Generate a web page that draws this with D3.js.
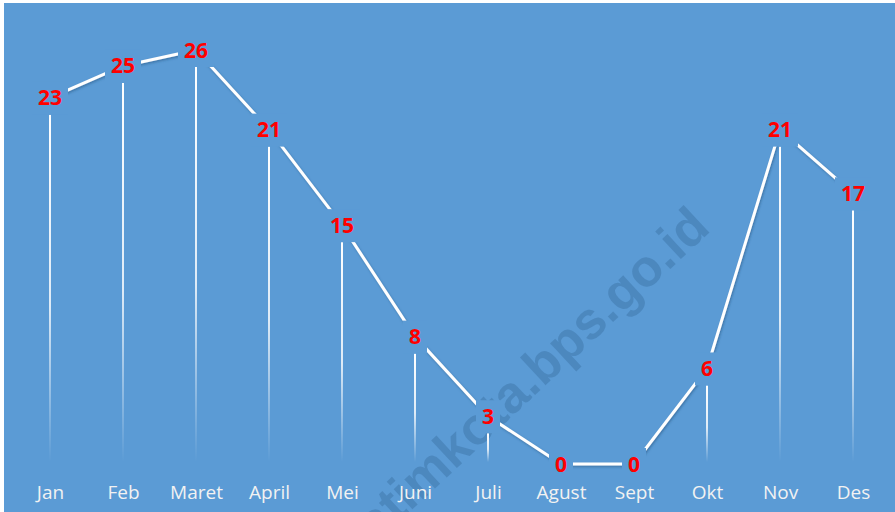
<!DOCTYPE html>
<html>
<head>
<meta charset="utf-8">
<script src="https://cdn.jsdelivr.net/npm/d3@7"></script>
<style>
  body { margin: 0; background: #fff; }
  svg { display: block; }
</style>
</head>
<body>
<script>
var width = 895,
    height = 512;

var months = ["Jan", "Feb", "Maret", "April", "Mei", "Juni", "Juli", "Agust", "Sept", "Okt", "Nov", "Des"];
var values = [23, 25, 26, 21, 15, 8, 3, 0, 0, 6, 21, 17];

var bg = "#5b9bd5";

var svg = d3.select("body").append("svg")
    .attr("width", width)
    .attr("height", height);

var defs = svg.append("defs");

var grad = defs.append("linearGradient")
    .attr("id", "drop")
    .attr("x1", 0).attr("y1", 0)
    .attr("x2", 0).attr("y2", 1);
grad.append("stop").attr("offset", "0%").attr("stop-color", "#fff").attr("stop-opacity", 1);
grad.append("stop").attr("offset", "55%").attr("stop-color", "#fff").attr("stop-opacity", 0.8);
grad.append("stop").attr("offset", "100%").attr("stop-color", "#fff").attr("stop-opacity", 0);

var shadow = defs.append("filter").attr("id", "shadow")
    .attr("x", "-10%").attr("y", "-10%").attr("width", "120%").attr("height", "120%");
shadow.append("feDropShadow")
    .attr("dx", 1).attr("dy", 1.5).attr("stdDeviation", 0.8)
    .attr("flood-color", "#1f4e79").attr("flood-opacity", 0.5);

// chart area
svg.append("rect")
    .attr("x", 4).attr("y", 3)
    .attr("width", width - 4).attr("height", height - 3)
    .attr("fill", bg);

var x = d3.scalePoint()
    .domain(months)
    .range([13.5, 889.5])
    .padding(0.5);

var y = d3.scaleLinear()
    .domain([0, 26])
    .range([464, 50]);

var data = months.map(function(m, i) { return {month: m, value: values[i]}; });

// watermark (runs off the bottom edge, like the original)
svg.append("text")
    .attr("transform", "translate(712,230) rotate(-43)")
    .attr("text-anchor", "end")
    .attr("font-family", "Liberation Sans, Arial, sans-serif")
    .attr("font-weight", "bold")
    .attr("font-size", 52)
    .attr("fill", "#2b5d8c")
    .attr("fill-opacity", 0.3)
    .text("jatimkota.bps.go.id");

// drop lines
svg.selectAll(".drop")
    .data(data.filter(function(d) { return y(d.value) + 17 < 455; }))
    .enter().append("rect")
    .attr("class", "drop")
    .attr("x", function(d) { return x(d.month) - 1; })
    .attr("y", function(d) { return y(d.value) + 17; })
    .attr("width", 2)
    .attr("height", function(d) { return 462 - (y(d.value) + 17); })
    .attr("fill", "url(#drop)");

// line
var line = d3.line()
    .x(function(d) { return x(d.month); })
    .y(function(d) { return y(d.value); });

svg.append("path")
    .datum(data)
    .attr("d", line)
    .attr("fill", "none")
    .attr("stroke", "#fff")
    .attr("stroke-width", 3)
    .attr("stroke-linejoin", "round")
    .attr("filter", "url(#shadow)");

// data labels with background box
var labels = svg.selectAll(".lbl")
    .data(data)
    .enter().append("g")
    .attr("class", "lbl")
    .attr("transform", function(d) { return "translate(" + x(d.month) + "," + y(d.value) + ")"; });

labels.append("rect")
    .attr("x", function(d) { return String(d.value).length > 1 ? -18 : -12; })
    .attr("width", function(d) { return String(d.value).length > 1 ? 36 : 24; })
    .attr("y", -16)
    .attr("height", 33)
    .attr("fill", bg);

labels.append("text")
    .attr("text-anchor", "middle")
    .attr("dy", "0.36em")
    .attr("font-family", "Open Sans, sans-serif")
    .attr("font-weight", "bold")
    .attr("font-size", 21)
    .attr("fill", "#ff0000")
    .text(function(d) { return d.value; });

// category axis
var axis = svg.append("g")
    .attr("transform", "translate(0,499)")
    .call(d3.axisBottom(x).tickSize(0).tickPadding(0));
axis.select(".domain").remove();
axis.selectAll("text")
    .attr("dy", 0)
    .attr("font-family", "Open Sans, sans-serif")
    .attr("font-size", 19)
    .attr("fill", "#f2f2f2");
</script>
</body>
</html>
